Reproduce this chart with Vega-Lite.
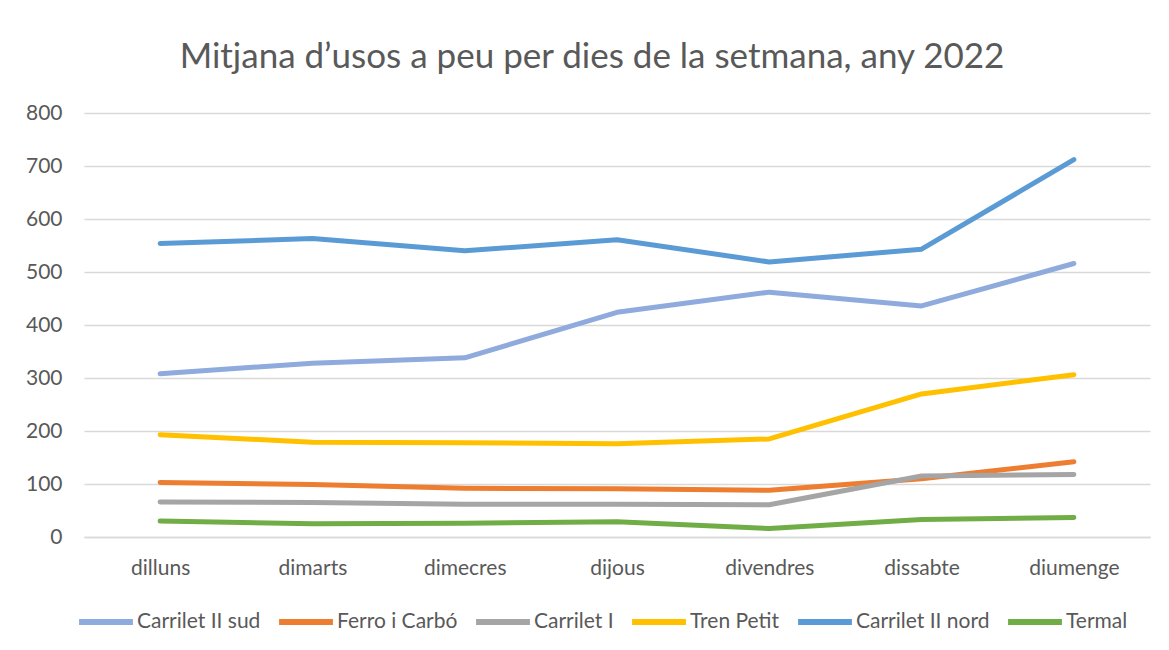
{
  "$schema": "https://vega.github.io/schema/vega-lite/v6.json",
  "autosize": "none",
  "width": 1066,
  "height": 424,
  "padding": {"left": 84, "top": 113, "right": 19, "bottom": 113},
  "background": "white",
  "title": {
    "text": "Mitjana d’usos a peu per dies de la setmana, any 2022",
    "font": "Lato",
    "fontSize": 35,
    "fontWeight": "normal",
    "color": "#595959",
    "anchor": "middle",
    "dx": -25,
    "offset": 27
  },
  "config": {
    "view": {"stroke": null},
    "font": "Lato",
    "axis": {
      "labelFont": "Lato",
      "labelFontSize": 21,
      "labelColor": "#595959",
      "ticks": false,
      "title": null
    },
    "legend": {"labelFont": "Lato", "labelFontSize": 21, "labelColor": "#595959"}
  },
  "data": {
    "values": [
      {"dia": "dilluns", "serie": "Carrilet II sud", "valor": 308},
      {"dia": "dimarts", "serie": "Carrilet II sud", "valor": 328},
      {"dia": "dimecres", "serie": "Carrilet II sud", "valor": 338},
      {"dia": "dijous", "serie": "Carrilet II sud", "valor": 424},
      {"dia": "divendres", "serie": "Carrilet II sud", "valor": 462},
      {"dia": "dissabte", "serie": "Carrilet II sud", "valor": 436},
      {"dia": "diumenge", "serie": "Carrilet II sud", "valor": 516},
      {"dia": "dilluns", "serie": "Ferro i Carbó", "valor": 103},
      {"dia": "dimarts", "serie": "Ferro i Carbó", "valor": 99},
      {"dia": "dimecres", "serie": "Ferro i Carbó", "valor": 92},
      {"dia": "dijous", "serie": "Ferro i Carbó", "valor": 91},
      {"dia": "divendres", "serie": "Ferro i Carbó", "valor": 88},
      {"dia": "dissabte", "serie": "Ferro i Carbó", "valor": 110},
      {"dia": "diumenge", "serie": "Ferro i Carbó", "valor": 142},
      {"dia": "dilluns", "serie": "Carrilet I", "valor": 66},
      {"dia": "dimarts", "serie": "Carrilet I", "valor": 65},
      {"dia": "dimecres", "serie": "Carrilet I", "valor": 62},
      {"dia": "dijous", "serie": "Carrilet I", "valor": 62},
      {"dia": "divendres", "serie": "Carrilet I", "valor": 61},
      {"dia": "dissabte", "serie": "Carrilet I", "valor": 115},
      {"dia": "diumenge", "serie": "Carrilet I", "valor": 118},
      {"dia": "dilluns", "serie": "Tren Petit", "valor": 193},
      {"dia": "dimarts", "serie": "Tren Petit", "valor": 179},
      {"dia": "dimecres", "serie": "Tren Petit", "valor": 178},
      {"dia": "dijous", "serie": "Tren Petit", "valor": 176},
      {"dia": "divendres", "serie": "Tren Petit", "valor": 185},
      {"dia": "dissabte", "serie": "Tren Petit", "valor": 270},
      {"dia": "diumenge", "serie": "Tren Petit", "valor": 306},
      {"dia": "dilluns", "serie": "Carrilet II nord", "valor": 554},
      {"dia": "dimarts", "serie": "Carrilet II nord", "valor": 563},
      {"dia": "dimecres", "serie": "Carrilet II nord", "valor": 540},
      {"dia": "dijous", "serie": "Carrilet II nord", "valor": 561},
      {"dia": "divendres", "serie": "Carrilet II nord", "valor": 519},
      {"dia": "dissabte", "serie": "Carrilet II nord", "valor": 543},
      {"dia": "diumenge", "serie": "Carrilet II nord", "valor": 712},
      {"dia": "dilluns", "serie": "Termal", "valor": 30},
      {"dia": "dimarts", "serie": "Termal", "valor": 25},
      {"dia": "dimecres", "serie": "Termal", "valor": 26},
      {"dia": "dijous", "serie": "Termal", "valor": 29},
      {"dia": "divendres", "serie": "Termal", "valor": 16},
      {"dia": "dissabte", "serie": "Termal", "valor": 33},
      {"dia": "diumenge", "serie": "Termal", "valor": 37}
    ]
  },
  "mark": {"type": "line", "strokeWidth": 5, "strokeCap": "round", "strokeJoin": "round"},
  "encoding": {
    "x": {
      "field": "dia",
      "type": "ordinal",
      "sort": ["dilluns", "dimarts", "dimecres", "dijous", "divendres", "dissabte", "diumenge"],
      "scale": {"type": "point", "padding": 0.5},
      "axis": {"labelAngle": 0, "labelPadding": 20, "domain": true, "domainColor": "#d9d9d9", "domainWidth": 1.5, "grid": false}
    },
    "y": {
      "field": "valor",
      "type": "quantitative",
      "scale": {"domain": [0, 800]},
      "axis": {"values": [0, 100, 200, 300, 400, 500, 600, 700, 800], "domain": false, "grid": true, "gridColor": "#d9d9d9", "gridWidth": 1.5, "labelPadding": 22}
    },
    "color": {
      "field": "serie",
      "type": "nominal",
      "scale": {
        "domain": ["Carrilet II sud", "Ferro i Carbó", "Carrilet I", "Tren Petit", "Carrilet II nord", "Termal"],
        "range": ["#8FAADC", "#ED7D31", "#A5A5A5", "#FFC000", "#5B9BD5", "#70AD47"]
      },
      "legend": {
        "title": null,
        "orient": "none",
        "direction": "horizontal",
        "legendX": -8,
        "legendY": 479,
        "symbolType": "stroke",
        "symbolSize": 2900,
        "symbolStrokeWidth": 6,
        "labelOffset": 1,
        "columnPadding": 6
      }
    },
    "order": {"field": "serie"}
  }
}
